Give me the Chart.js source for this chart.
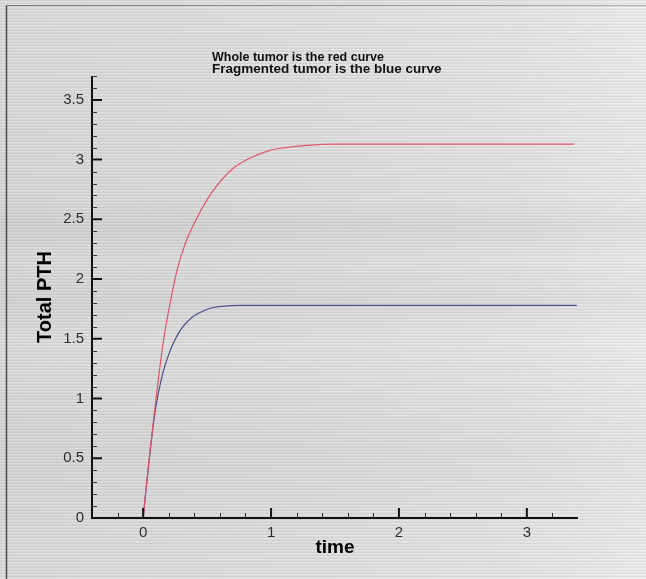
<!DOCTYPE html>
<html>
<head>
<meta charset="utf-8">
<script src="https://cdn.jsdelivr.net/npm/chart.js@4.4.1/dist/chart.umd.min.js"></script>
<style>
html, body { margin: 0; padding: 0; }
body {
  width: 646px; height: 579px; overflow: hidden;
  background:
    repeating-linear-gradient(180deg, rgba(110,110,110,0.12) 0px, rgba(110,110,110,0.12) 1px, rgba(255,255,255,0.10) 1px, rgba(255,255,255,0.10) 2px, rgba(150,150,150,0.06) 2px, rgba(150,150,150,0.06) 3px),
    linear-gradient(180deg, rgba(0,0,0,0) 0px, rgba(0,0,0,0.02) 200px, rgba(0,0,0,0.05) 225px, rgba(0,0,0,0.01) 260px, rgba(0,0,0,0.04) 300px, rgba(0,0,0,0.0) 340px, rgba(0,0,0,0.03) 450px, rgba(0,0,0,0.0) 579px),
    linear-gradient(90deg, #dcdcdc 0%, #e0e0e0 45%, #e6e6e6 80%, #eeeeee 100%);
}
canvas { display: block; }
</style>
</head>
<body>
<canvas id="c" width="646" height="579"></canvas>
<script>
// ---- data ----
const redTime   = [0, 0.02, 0.044, 0.083, 0.122, 0.161, 0.2, 0.266, 0.33, 0.434, 0.54, 0.695, 0.85, 0.955, 1.07, 1.28, 1.5, 2.0, 2.5, 3.0, 3.37];
const redValues = [0, 0.22, 0.47, 0.84, 1.19, 1.50, 1.74, 2.08, 2.30, 2.54, 2.73, 2.92, 3.02, 3.065, 3.095, 3.12, 3.13, 3.13, 3.13, 3.13, 3.13];

const blueTime   = [0, 0.02, 0.057, 0.096, 0.148, 0.2, 0.278, 0.383, 0.51, 0.617, 0.75, 1.0, 1.5, 2.0, 2.5, 3.0, 3.39];
const blueValues = [0, 0.21, 0.58, 0.91, 1.19, 1.37, 1.55, 1.68, 1.75, 1.772, 1.78, 1.78, 1.78, 1.78, 1.78, 1.78, 1.78];

const xTickValues = [0, 1, 2, 3];
const xTickLabels = ['0', '1', '2', '3'];
const yTickValues = [0, 0.5, 1, 1.5, 2, 2.5, 3, 3.5];
const yTickLabels = ['0', '0.5', '1', '1.5', '2', '2.5', '3', '3.5'];
const xMinorTicks = [-0.2, 0.2, 0.4, 0.6, 0.8, 1.2, 1.4, 1.6, 1.8, 2.2, 2.4, 2.6, 2.8, 3.2];
const yMinorTicks = [0.1, 0.2, 0.3, 0.4, 0.6, 0.7, 0.8, 0.9, 1.1, 1.2, 1.3, 1.4, 1.6, 1.7, 1.8, 1.9, 2.1, 2.2, 2.3, 2.4, 2.6, 2.7, 2.8, 2.9, 3.1, 3.2, 3.3, 3.4, 3.6, 3.7];
const xRange = [-0.4, 3.4];
const yRange = [0, 3.7];
const titleLines = ['Whole tumor is the red curve', 'Fragmented tumor is the blue curve'];
const xTitle = 'time';
const yTitle = 'Total PTH';

const FONT = "'Liberation Sans', Arial, Helvetica, sans-serif";

const toPoints = (xs, ys) => xs.map((x, i) => ({ x: x, y: ys[i] }));

const decor = {
  id: 'decor',
  beforeDraw(chart) {
    const ctx = chart.ctx;
    ctx.save();
    ctx.strokeStyle = '#4a4a4a';
    ctx.lineWidth = 1.5;
    ctx.beginPath(); ctx.moveTo(6.5, 5); ctx.lineTo(6.5, 579); ctx.stroke();
    const g = ctx.createLinearGradient(6, 0, 646, 0);
    g.addColorStop(0, '#777'); g.addColorStop(0.6, '#999'); g.addColorStop(1, '#aaa');
    ctx.strokeStyle = g;
    ctx.lineWidth = 1;
    ctx.beginPath(); ctx.moveTo(6, 5.5); ctx.lineTo(646, 5.5); ctx.stroke();
    ctx.restore();
  },
  afterDatasetsDraw(chart) {
    const ctx = chart.ctx;
    const xs = chart.scales.x, ys = chart.scales.y;
    const left = xs.getPixelForValue(xRange[0]);
    const right = xs.getPixelForValue(xRange[1]);
    const bottom = ys.getPixelForValue(yRange[0]);
    const top = ys.getPixelForValue(yRange[1]);
    ctx.save();
    ctx.strokeStyle = '#111';
    ctx.lineCap = 'butt';
    ctx.lineWidth = 2;
    ctx.beginPath();
    ctx.moveTo(left, top); ctx.lineTo(left, bottom + 1);
    ctx.moveTo(left - 1, bottom); ctx.lineTo(right, bottom);
    ctx.stroke();
    ctx.lineWidth = 2;
    ctx.beginPath();
    yTickValues.forEach(v => { const y = ys.getPixelForValue(v); ctx.moveTo(left, y); ctx.lineTo(left + 10, y); });
    xTickValues.forEach(v => { const x = xs.getPixelForValue(v); ctx.moveTo(x, bottom); ctx.lineTo(x, bottom - 10); });
    ctx.stroke();
    ctx.lineWidth = 1;
    ctx.strokeStyle = '#333';
    ctx.beginPath();
    yMinorTicks.forEach(v => { const y = Math.round(ys.getPixelForValue(v)) + 0.5; ctx.moveTo(left, y); ctx.lineTo(left + 5, y); });
    xMinorTicks.forEach(v => { const x = Math.round(xs.getPixelForValue(v)) + 0.5; ctx.moveTo(x, bottom); ctx.lineTo(x, bottom - 5); });
    ctx.stroke();
    ctx.restore();
  },
  afterDraw(chart) {
    const ctx = chart.ctx;
    ctx.save();
    ctx.fillStyle = '#111';
    ctx.font = "bold 13.5px " + FONT;
    ctx.textAlign = 'left';
    ctx.textBaseline = 'middle';
    ctx.fillText(titleLines[0], 212, 57, 172);
    ctx.fillText(titleLines[1], 212, 69, 233);
    ctx.restore();
  }
};

new Chart(document.getElementById('c'), {
  type: 'line',
  data: {
    datasets: [
      { label: 'Whole tumor', data: toPoints(redTime, redValues), borderColor: '#e0566a', borderWidth: 1.2, pointRadius: 0, fill: false, cubicInterpolationMode: 'monotone' },
      { label: 'Fragmented tumor', data: toPoints(blueTime, blueValues), borderColor: '#4d4f8f', borderWidth: 1.2, pointRadius: 0, fill: false, cubicInterpolationMode: 'monotone' }
    ]
  },
  options: {
    responsive: false,
    animation: false,
    devicePixelRatio: 1,
    layout: { padding: { left: 0, right: 68, top: 76, bottom: 0 } },
    plugins: { legend: { display: false }, tooltip: { enabled: false }, title: { display: false } },
    scales: {
      x: {
        type: 'linear', position: 'bottom', min: xRange[0], max: xRange[1],
        afterBuildTicks: s => { s.ticks = xTickValues.map(v => ({ value: v })); },
        afterFit: s => { s.height = 61; },
        grid: { display: false, drawTicks: false },
        border: { display: false },
        ticks: { autoSkip: false, maxRotation: 0, padding: 6, color: '#2e2e2e', font: { family: FONT, size: 15 }, callback: (v, i) => xTickLabels[i] },
        title: { display: true, text: xTitle, color: '#000', font: { family: FONT, size: 19, weight: 'bold' }, padding: { top: 0, bottom: 20 } }
      },
      y: {
        type: 'linear', position: 'left', min: yRange[0], max: yRange[1],
        afterBuildTicks: s => { s.ticks = yTickValues.map(v => ({ value: v })); },
        afterFit: s => { s.width = 92; },
        grid: { display: false, drawTicks: false },
        border: { display: false },
        ticks: { autoSkip: false, padding: 8, color: '#2e2e2e', font: { family: FONT, size: 15 }, callback: (v, i) => yTickLabels[i] },
        title: { display: true, text: yTitle, color: '#000', font: { family: FONT, size: 20, weight: 'bold' }, padding: { top: 33, bottom: 0 } }
      }
    }
  },
  plugins: [decor]
});
</script>
</body>
</html>
